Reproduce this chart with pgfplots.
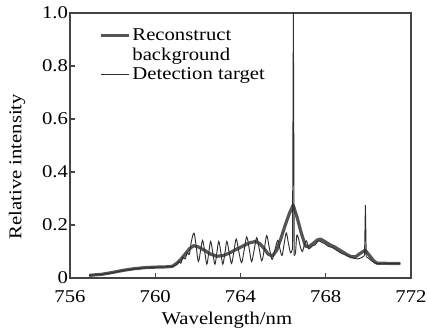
\documentclass[border=0pt]{standalone}
\usepackage{fontspec}
\setmainfont{Liberation Serif}[FakeStretch=1.15]
\usepackage{pgfplots}
\pgfplotsset{compat=1.18}
\newcommand\myfont{\fontsize{13.5}{16}\selectfont}
\definecolor{thickc}{HTML}{555555}
\definecolor{thinc}{HTML}{2E2E2E}
\definecolor{axc}{HTML}{444444}
\begin{document}
\begin{tikzpicture}
\begin{axis}[name=ax,
  scale only axis, width=255.75pt, height=198.75pt,
  xmin=756, xmax=772, ymin=0, ymax=1,
  xtick={756,760,764,768,772},
  ytick={0,0.2,0.4,0.6,0.8,1},
  yticklabels={0,0.2,0.4,0.6,0.8,1.0},
  /pgf/number format/assume math mode=true,
  tick align=inside, tick pos=left,
  major tick length=3.5pt,
  axis line style={axc, line width=1pt},
  every tick/.style={axc, line width=0.8pt},
  tick label style={font=\myfont, black},
  xticklabel style={yshift=-6pt},
  yticklabel style={xshift=2pt},
  label style={font=\myfont, black},
  xlabel={Wavelength/nm},
  ylabel={Relative intensity},
  xlabel style={at={(axis description cs:0.46,-0.158)}, anchor=center},
  ylabel style={at={(axis description cs:-0.155,0.42)}, anchor=center},
  legend style={draw=none, fill=none, at={(axis description cs:0.085,0.95)}, anchor=north west, font=\myfont, row sep=1pt, inner sep=0pt, nodes={inner sep=1.5pt}},
  legend cell align=left,
  legend image code/.code={\draw[#1] (0pt,0pt) -- (21pt,0pt);},
]
\addplot[thickc, line width=2.4pt, line join=round] coordinates {
(756.90,0.010) (757.50,0.014) (758.00,0.021) (758.50,0.029) (759.00,0.035)
(759.50,0.039) (760.00,0.041) (760.50,0.042) (760.80,0.044) (761.00,0.055)
(761.20,0.070) (761.40,0.090) (761.60,0.110) (761.80,0.122) (762.00,0.118)
(762.30,0.105) (762.60,0.090) (762.90,0.082) (763.20,0.085) (763.50,0.095)
(763.80,0.108) (764.10,0.120) (764.40,0.132) (764.70,0.138) (764.90,0.130)
(765.10,0.112) (765.30,0.090) (765.50,0.083) (765.70,0.105) (765.90,0.150)
(766.10,0.200) (766.30,0.245) (766.47,0.275) (766.65,0.230) (766.85,0.170)
(767.05,0.120) (767.20,0.118) (767.40,0.130) (767.60,0.143) (767.75,0.147)
(767.95,0.138) (768.20,0.125) (768.40,0.118) (768.60,0.108) (768.80,0.098)
(769.00,0.088) (769.20,0.080) (769.40,0.080) (769.60,0.092) (769.85,0.105)
(770.05,0.085) (770.25,0.065) (770.40,0.056) (771.00,0.055) (771.50,0.055)
};
\addlegendentry{Reconstruct}
\addlegendimage{empty legend}
\addlegendentry{background}
\addplot[thinc, line width=0.7pt, smooth, tension=0.55] coordinates {
(756.90,0.010) (757.50,0.014) (758.00,0.020) (758.50,0.028) (759.00,0.034)
(759.50,0.038) (760.00,0.040) (760.50,0.042) (760.80,0.044) (761.00,0.050)
(761.10,0.062) (761.20,0.056) (761.30,0.078) (761.40,0.072) (761.50,0.095)
(761.60,0.090) (761.70,0.140) (761.82,0.169) (761.92,0.120) (762.02,0.062)
(762.12,0.100) (762.22,0.142) (762.32,0.100) (762.42,0.052) (762.51,0.095)
(762.60,0.138) (762.70,0.095) (762.80,0.052) (762.89,0.095) (762.98,0.138)
(763.08,0.095) (763.17,0.052) (763.27,0.095) (763.36,0.138) (763.47,0.095)
(763.58,0.055) (763.69,0.100) (763.80,0.147) (763.92,0.100) (764.05,0.058)
(764.17,0.105) (764.29,0.155) (764.41,0.110) (764.52,0.062) (764.64,0.105)
(764.76,0.152) (764.88,0.110) (765.00,0.065) (765.12,0.110) (765.23,0.160)
(765.35,0.115) (765.48,0.070) (765.61,0.105) (765.75,0.142) (765.85,0.110)
(765.95,0.085) (766.05,0.130) (766.15,0.170) (766.25,0.130) (766.35,0.095)
(766.44,0.110)
};
\addlegendentry{Detection target}
\addplot[thinc, line width=0.7pt, forget plot] coordinates {
(766.44,0.110) (766.48,1.000) (766.52,0.085)
};
\addplot[thinc, line width=0.7pt, smooth, tension=0.5, forget plot] coordinates {
(766.52,0.085) (766.58,0.095) (766.64,0.160)
(766.72,0.150) (766.80,0.120) (766.90,0.100) (767.00,0.125) (767.10,0.140)
(767.20,0.110) (767.35,0.120) (767.50,0.125) (767.65,0.140) (767.80,0.135)
(767.95,0.130) (768.10,0.120) (768.30,0.115) (768.50,0.105) (768.70,0.095)
(768.90,0.088) (769.10,0.080) (769.30,0.075) (769.50,0.072) (769.70,0.078)
(769.82,0.085)
};
\addplot[thinc, line width=0.7pt, forget plot] coordinates {
(769.82,0.085) (769.86,0.275) (769.90,0.080)
};
\addplot[thinc, line width=0.7pt, smooth, tension=0.5, forget plot] coordinates {
(769.90,0.080) (770.00,0.075) (770.15,0.065)
(770.30,0.056) (770.50,0.054) (771.00,0.054) (771.50,0.054)
};
\end{axis}
\pgfresetboundingbox
\path[use as bounding box] ([xshift=-52.5pt, yshift=-39.75pt]ax.south west) rectangle ([xshift=12pt, yshift=9.75pt]ax.north east);
\end{tikzpicture}
\end{document}
